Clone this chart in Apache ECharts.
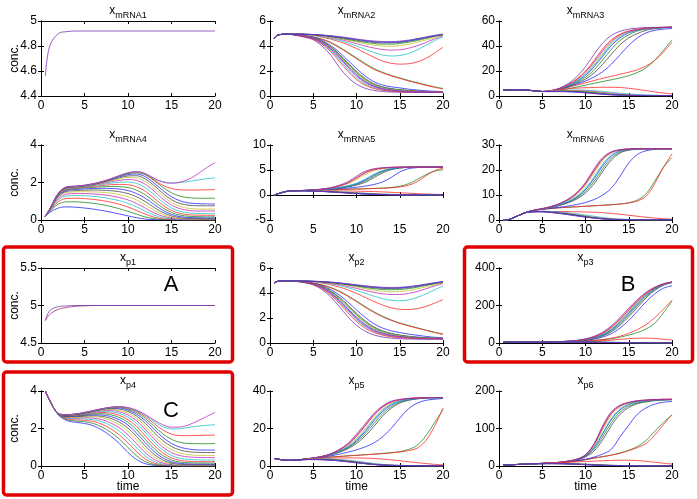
<!DOCTYPE html>
<html><head><meta charset="utf-8">
<script src="https://cdn.jsdelivr.net/npm/echarts/dist/echarts.min.js"></script>
<style>html,body{margin:0;padding:0;background:#fff}#c{width:697px;height:499px}</style>
</head><body><div id="c"></div>
<script>
// ---------- data ----------
const TIME = [0.5,1,2,3,4,5,6,7,8,9,10,11,12,13,14,15,16,17,18,19,20];
const X_TICKS = [0,5,10,15,20];

const xmRNA1 = [
 [4.56,4.80,4.90,4.915,4.92,4.92,4.92,4.92,4.92,4.92,4.92,4.92,4.92,4.92,4.92,4.92,4.92,4.92,4.92,4.92,4.92]
];
const xp1 = [
 [4.80,4.88,4.95,4.975,4.99,4.995,5,5,5,5,5,5,5,5,5,5,5,5,5,5,5],
 [4.80,4.93,4.985,4.995,5,5,5,5,5,5,5,5,5,5,5,5,5,5,5,5,5]
];
const xmRNA2 = [
 [4.6,4.9,4.95,4.91,4.84,4.72,4.55,4.30,3.92,3.50,3.05,2.60,2.20,1.90,1.65,1.45,1.25,1.07,0.90,0.74,0.60],
 [4.6,4.9,4.95,4.91,4.83,4.70,4.52,4.26,3.87,3.44,2.98,2.53,2.14,1.85,1.61,1.41,1.21,1.03,0.86,0.70,0.56],
 [4.6,4.9,4.95,4.90,4.82,4.70,4.45,4.05,3.50,2.85,2.20,1.60,1.15,0.88,0.74,0.65,0.55,0.48,0.42,0.38,0.36],
 [4.6,4.9,4.95,4.89,4.80,4.66,4.38,3.95,3.35,2.65,1.98,1.40,0.98,0.74,0.60,0.51,0.45,0.40,0.37,0.35,0.34],
 [4.6,4.9,4.95,4.89,4.79,4.64,4.35,3.90,3.28,2.56,1.88,1.31,0.91,0.69,0.56,0.48,0.42,0.38,0.36,0.34,0.33],
 [4.6,4.9,4.95,4.89,4.79,4.63,4.32,3.85,3.20,2.47,1.78,1.23,0.85,0.63,0.51,0.44,0.39,0.36,0.34,0.33,0.32],
 [4.6,4.9,4.95,4.88,4.78,4.61,4.29,3.80,3.13,2.38,1.69,1.15,0.80,0.59,0.48,0.41,0.37,0.35,0.33,0.32,0.31],
 [4.6,4.9,4.95,4.88,4.76,4.58,4.20,3.65,2.92,2.14,1.45,0.96,0.67,0.50,0.41,0.36,0.33,0.32,0.31,0.30,0.30],
 [4.6,4.9,4.95,4.88,4.77,4.60,4.26,3.75,3.06,2.30,1.60,1.08,0.75,0.56,0.45,0.39,0.36,0.34,0.32,0.31,0.31],
 [4.6,4.9,4.95,4.87,4.74,4.55,4.14,3.56,2.78,1.98,1.31,0.86,0.60,0.46,0.38,0.34,0.32,0.31,0.30,0.30,0.29],
 [4.6,4.9,4.95,4.85,4.70,4.50,4.00,3.30,2.30,1.50,0.95,0.62,0.45,0.36,0.32,0.30,0.29,0.28,0.28,0.28,0.28],
 [4.6,4.9,4.95,4.95,4.93,4.85,4.70,4.55,4.35,4.10,3.80,3.45,3.10,2.80,2.62,2.55,2.58,2.72,3.00,3.42,3.90],
 [4.6,4.9,4.95,4.95,4.93,4.86,4.76,4.62,4.45,4.24,4.00,3.74,3.48,3.28,3.20,3.24,3.40,3.68,4.05,4.42,4.72],
 [4.6,4.9,4.95,4.95,4.93,4.88,4.80,4.68,4.54,4.37,4.19,4.00,3.84,3.72,3.67,3.70,3.82,4.02,4.28,4.56,4.82],
 [4.6,4.9,4.95,4.95,4.93,4.89,4.82,4.72,4.60,4.46,4.32,4.18,4.07,4.00,3.98,4.03,4.14,4.30,4.48,4.66,4.86],
 [4.6,4.9,4.95,4.95,4.94,4.90,4.84,4.75,4.64,4.52,4.40,4.29,4.20,4.15,4.15,4.20,4.30,4.44,4.60,4.76,4.90],
 [4.6,4.9,4.95,4.95,4.94,4.91,4.86,4.78,4.69,4.58,4.47,4.37,4.29,4.25,4.25,4.29,4.38,4.51,4.66,4.80,4.92],
 [4.6,4.9,4.95,4.95,4.94,4.92,4.87,4.80,4.72,4.62,4.52,4.43,4.35,4.31,4.30,4.34,4.42,4.55,4.69,4.82,4.93],
 [4.6,4.9,4.95,4.95,4.94,4.92,4.88,4.82,4.75,4.66,4.56,4.47,4.40,4.36,4.35,4.39,4.47,4.59,4.72,4.85,4.95]
];
const xp2 = [
 [4.8,4.95,4.97,4.95,4.90,4.80,4.65,4.45,4.15,3.78,3.36,2.92,2.50,2.15,1.85,1.60,1.40,1.22,1.04,0.87,0.72],
 [4.8,4.95,4.97,4.95,4.89,4.79,4.63,4.42,4.11,3.73,3.30,2.86,2.45,2.10,1.81,1.57,1.37,1.19,1.01,0.84,0.69],
 [4.8,4.95,4.97,4.95,4.88,4.77,4.58,4.28,3.85,3.28,2.65,2.05,1.55,1.20,0.98,0.84,0.72,0.62,0.53,0.46,0.42],
 [4.8,4.95,4.97,4.95,4.88,4.75,4.53,4.18,3.68,3.05,2.38,1.77,1.30,0.98,0.78,0.64,0.55,0.48,0.43,0.40,0.38],
 [4.8,4.95,4.97,4.94,4.87,4.74,4.50,4.13,3.60,2.95,2.27,1.67,1.21,0.91,0.72,0.59,0.51,0.45,0.41,0.38,0.36],
 [4.8,4.95,4.97,4.94,4.87,4.73,4.48,4.08,3.52,2.85,2.16,1.57,1.13,0.85,0.67,0.55,0.48,0.43,0.39,0.37,0.35],
 [4.8,4.95,4.97,4.94,4.86,4.72,4.45,4.03,3.44,2.75,2.05,1.47,1.06,0.79,0.62,0.52,0.45,0.41,0.38,0.36,0.34],
 [4.8,4.95,4.97,4.94,4.85,4.70,4.40,3.94,3.30,2.57,1.86,1.31,0.93,0.69,0.55,0.46,0.41,0.37,0.35,0.34,0.33],
 [4.8,4.95,4.97,4.94,4.86,4.71,4.42,3.98,3.37,2.66,1.95,1.38,0.99,0.74,0.58,0.49,0.43,0.39,0.36,0.35,0.34],
 [4.8,4.95,4.97,4.93,4.84,4.68,4.36,3.87,3.18,2.42,1.72,1.19,0.85,0.63,0.50,0.43,0.38,0.35,0.34,0.33,0.32],
 [4.8,4.95,4.97,4.93,4.83,4.65,4.28,3.70,2.92,2.10,1.42,0.94,0.65,0.48,0.39,0.34,0.32,0.31,0.30,0.30,0.30],
 [4.8,4.95,4.97,4.96,4.95,4.90,4.80,4.66,4.48,4.25,3.97,3.65,3.33,3.04,2.82,2.70,2.68,2.75,2.92,3.18,3.48],
 [4.8,4.95,4.97,4.96,4.95,4.91,4.84,4.74,4.60,4.42,4.21,3.98,3.75,3.55,3.42,3.38,3.45,3.65,3.92,4.25,4.56],
 [4.8,4.95,4.97,4.96,4.95,4.92,4.86,4.78,4.67,4.53,4.37,4.21,4.05,3.94,3.88,3.88,3.96,4.12,4.33,4.55,4.76],
 [4.8,4.95,4.97,4.96,4.95,4.92,4.88,4.81,4.72,4.61,4.48,4.35,4.23,4.15,4.10,4.12,4.20,4.33,4.48,4.64,4.80],
 [4.8,4.95,4.97,4.96,4.95,4.93,4.89,4.83,4.75,4.66,4.55,4.44,4.35,4.28,4.26,4.28,4.35,4.46,4.60,4.73,4.85],
 [4.8,4.95,4.97,4.96,4.95,4.93,4.90,4.85,4.78,4.69,4.60,4.50,4.42,4.37,4.35,4.37,4.43,4.53,4.65,4.77,4.88],
 [4.8,4.95,4.97,4.96,4.95,4.94,4.91,4.86,4.80,4.72,4.63,4.54,4.47,4.42,4.40,4.42,4.48,4.57,4.68,4.80,4.90],
 [4.8,4.95,4.97,4.96,4.95,4.94,4.91,4.87,4.81,4.74,4.66,4.58,4.51,4.46,4.44,4.46,4.51,4.60,4.71,4.82,4.92]
];
const xmRNA3 = [
 [4.9,4.9,4.9,4.8,4.2,3.6,3.7,4.5,5.8,7.2,8.7,10.2,11.6,13.0,14.5,16.3,18.8,22.5,28.5,36.5,45],
 [4.9,4.9,4.9,4.8,4.2,3.6,3.9,5.0,6.8,8.7,10.6,12.4,14.2,15.8,17.4,19.0,21.0,24.0,28.5,35.0,43],
 [4.9,4.9,4.9,4.8,4.2,3.6,4.0,5.3,7.3,9.5,12.0,15.2,19.5,25.5,33.0,40.5,46.5,50.5,52.5,53.5,54.0],
 [4.9,4.9,4.9,4.8,4.2,3.6,4.0,5.4,7.6,10.2,13.5,18.5,25.5,33.5,41.0,46.5,50.0,52.5,53.8,54.5,55.0],
 [4.9,4.9,4.9,4.8,4.2,3.6,4.1,5.6,8.0,11.0,15.0,21.0,29.0,37.5,44.5,49.0,52.0,53.5,54.3,54.8,55.0],
 [4.9,4.9,4.9,4.8,4.2,3.6,4.2,5.9,8.8,12.7,18.3,26.0,35.0,43.0,48.5,51.5,53.2,54.2,54.6,54.9,55.0],
 [4.9,4.9,4.9,4.8,4.2,3.6,4.1,5.7,8.3,11.7,16.5,23.5,32.0,40.5,46.5,50.5,52.7,53.9,54.5,54.8,55.0],
 [4.9,4.9,4.9,4.8,4.2,3.6,4.2,5.8,8.5,12.2,17.4,24.8,33.5,41.8,47.5,51.0,53.0,54.0,54.5,54.8,55.0],
 [4.9,4.9,4.9,4.8,4.2,3.6,4.2,6.0,9.0,13.2,19.2,27.3,36.5,44.0,49.0,51.8,53.3,54.2,54.6,54.9,55.0],
 [4.9,4.9,4.9,4.8,4.2,3.6,4.2,6.0,9.2,13.7,20.0,28.5,37.8,45.0,49.5,52.0,53.4,54.3,54.7,54.9,55.0],
 [4.9,4.9,4.9,4.8,4.2,3.6,4.3,6.3,10.0,15.5,23.5,33.5,42.5,48.5,51.8,53.4,54.3,54.7,54.9,55.0,55.0],
 [4.9,4.9,4.9,4.8,4.2,3.6,4.0,4.9,5.8,6.3,6.6,6.8,7.0,7.0,6.8,6.2,5.3,4.3,3.3,2.4,1.7],
 [4.9,4.9,4.9,4.8,4.2,3.6,3.8,4.3,4.7,4.8,4.6,4.2,3.6,3.0,2.3,1.7,1.2,0.9,0.7,0.5,0.4],
 [4.9,4.9,4.9,4.8,4.2,3.6,3.7,4.1,4.4,4.4,4.1,3.6,2.9,2.2,1.5,1.0,0.7,0.5,0.4,0.3,0.3],
 [4.9,4.9,4.9,4.8,4.2,3.6,3.7,4.0,4.2,4.1,3.7,3.1,2.4,1.7,1.1,0.7,0.5,0.4,0.3,0.3,0.3],
 [4.9,4.9,4.9,4.8,4.2,3.6,3.6,3.8,3.9,3.7,3.3,2.7,2.0,1.4,0.9,0.6,0.4,0.3,0.3,0.3,0.3],
 [4.9,4.9,4.9,4.8,4.2,3.6,3.6,3.7,3.7,3.5,3.0,2.4,1.7,1.2,0.8,0.5,0.4,0.3,0.3,0.3,0.3],
 [4.9,4.9,4.9,4.8,4.2,3.6,3.5,3.6,3.5,3.2,2.7,2.1,1.5,1.0,0.7,0.5,0.4,0.3,0.3,0.3,0.3],
 [4.9,4.9,4.9,4.8,4.2,3.6,3.5,3.5,3.3,3.0,2.5,1.9,1.3,0.9,0.6,0.4,0.3,0.3,0.3,0.3,0.3]
];
const xp3 = [
 [5,5,5,5,5,5,5.5,6,7,8,10,13,17,23,31,42,56,75,105,160,225],
 [5,5,5,5,5,5,5.5,6,7,8.5,11,14.5,19,26,36,52,72,98,135,180,228],
 [5,5,5,5,5,5,5.5,6.5,8,10,14,21,32,50,80,120,170,220,262,292,305],
 [5,5,5,5,5,5,5.5,6.5,8.5,11,16,24,38,60,95,140,190,240,280,308,322],
 [5,5,5,5,5,5,5.5,6.5,8.5,11.5,17,26,41,66,103,150,200,248,285,310,323],
 [5,5,5,5,5,5,5.5,7,9,12.5,19,30,48,77,118,167,216,260,292,313,325],
 [5,5,5,5,5,5,5.5,6.5,8.5,12,18,28,44,71,110,158,208,254,289,311,324],
 [5,5,5,5,5,5,5.5,7,9,12.5,19,29,46,74,114,163,212,257,290,312,324],
 [5,5,5,5,5,5,5.5,7,9.5,13,20,32,52,83,125,174,222,264,294,314,325],
 [5,5,5,5,5,5,5.5,7,9.5,13.5,21,33,54,86,129,178,225,266,295,315,325],
 [5,5,5,5,5,5,6,7.5,10,14,22,36,58,92,136,186,232,271,298,316,326],
 [5,5,5,5,5,5,5.5,6,7,8,9.5,11,13,15.5,19,23,25.5,26,24,20,16],
 [5,5,5,5,5,5,5.5,6,6.5,7,7,6.5,5.5,4.5,3.5,2.5,2,1.5,1,1,1],
 [5,5,5,5,5,5,5.5,6,6.5,6.5,6,5.5,4.5,3.5,2.5,1.8,1.3,1,0.8,0.7,0.6],
 [5,5,5,5,5,5,5.5,6,6,6,5.5,5,4,3,2.2,1.5,1.1,0.8,0.6,0.5,0.5],
 [5,5,5,5,5,5,5.5,5.5,6,5.5,5,4.5,3.5,2.6,1.9,1.3,0.9,0.7,0.5,0.5,0.4],
 [5,5,5,5,5,5,5.5,5.5,5.5,5.5,5,4.2,3.3,2.4,1.7,1.2,0.8,0.6,0.5,0.4,0.4],
 [5,5,5,5,5,5,5,5.5,5.5,5,4.5,4,3,2.2,1.5,1,0.7,0.5,0.4,0.4,0.4],
 [5,5,5,5,5,5,5,5.5,5.5,5,4.5,3.8,2.8,2,1.4,0.9,0.6,0.5,0.4,0.4,0.4]
];
const xmRNA4 = [
 [0.20,0.40,0.64,0.70,0.68,0.64,0.58,0.51,0.42,0.32,0.22,0.12,0.05,0.02,0.01,0,0,0,0,0,0],
 [0.20,0.45,0.85,0.97,0.97,0.94,0.89,0.82,0.72,0.60,0.46,0.31,0.16,0.07,0.03,0.01,0,0,0,0,0],
 [0.20,0.48,0.98,1.15,1.16,1.14,1.10,1.04,0.95,0.84,0.69,0.51,0.31,0.15,0.06,0.03,0.02,0.01,0.01,0.01,0.01],
 [0.20,0.50,1.08,1.28,1.30,1.29,1.26,1.21,1.13,1.03,0.89,0.70,0.47,0.26,0.12,0.06,0.03,0.02,0.02,0.02,0.02],
 [0.20,0.52,1.16,1.38,1.41,1.41,1.39,1.35,1.29,1.20,1.07,0.88,0.63,0.38,0.20,0.10,0.05,0.04,0.03,0.03,0.03],
 [0.20,0.53,1.22,1.47,1.50,1.51,1.50,1.48,1.43,1.36,1.24,1.06,0.80,0.52,0.29,0.15,0.08,0.06,0.05,0.05,0.05],
 [0.20,0.54,1.27,1.53,1.57,1.59,1.60,1.59,1.56,1.51,1.41,1.24,0.98,0.67,0.40,0.22,0.12,0.09,0.08,0.07,0.07],
 [0.20,0.55,1.31,1.58,1.63,1.66,1.68,1.69,1.68,1.65,1.57,1.41,1.16,0.83,0.52,0.30,0.18,0.13,0.12,0.11,0.11],
 [0.20,0.56,1.34,1.62,1.67,1.71,1.74,1.77,1.79,1.78,1.73,1.59,1.34,0.99,0.65,0.40,0.26,0.20,0.18,0.17,0.17],
 [0.20,0.56,1.36,1.65,1.70,1.74,1.79,1.84,1.88,1.90,1.88,1.77,1.53,1.16,0.79,0.51,0.35,0.28,0.26,0.25,0.25],
 [0.20,0.57,1.38,1.68,1.73,1.77,1.83,1.89,1.96,2.01,2.03,1.95,1.72,1.35,0.95,0.64,0.46,0.38,0.35,0.34,0.34],
 [0.20,0.57,1.39,1.70,1.75,1.79,1.86,1.94,2.03,2.11,2.16,2.11,1.90,1.54,1.12,0.79,0.60,0.51,0.48,0.48,0.48],
 [0.20,0.57,1.40,1.72,1.76,1.81,1.88,1.97,2.08,2.19,2.27,2.25,2.05,1.70,1.28,0.93,0.72,0.62,0.59,0.58,0.58],
 [0.20,0.58,1.41,1.73,1.77,1.82,1.90,2.00,2.12,2.25,2.35,2.36,2.18,1.84,1.43,1.08,0.88,0.79,0.76,0.76,0.76],
 [0.20,0.58,1.42,1.74,1.78,1.83,1.91,2.02,2.15,2.30,2.42,2.45,2.30,1.97,1.58,1.24,1.02,0.91,0.87,0.86,0.85],
 [0.20,0.58,1.42,1.75,1.79,1.84,1.92,2.03,2.17,2.33,2.47,2.52,2.40,2.10,1.75,1.45,1.27,1.19,1.16,1.16,1.16],
 [0.20,0.58,1.43,1.76,1.80,1.85,1.93,2.04,2.18,2.35,2.50,2.56,2.45,2.15,1.85,1.68,1.61,1.60,1.60,1.61,1.62],
 [0.20,0.58,1.43,1.77,1.80,1.85,1.93,2.05,2.19,2.36,2.51,2.57,2.47,2.22,2.05,1.98,2.00,2.06,2.13,2.20,2.25],
 [0.20,0.58,1.43,1.78,1.81,1.86,1.94,2.05,2.20,2.37,2.52,2.58,2.47,2.22,2.02,1.96,2.02,2.18,2.45,2.78,3.06]
];
const xp4 = [
 [4.00,3.50,2.72,2.42,2.33,2.27,2.15,1.92,1.60,1.20,0.72,0.34,0.12,0.04,0.01,0,0,0,0,0,0],
 [4.00,3.50,2.73,2.47,2.40,2.36,2.27,2.08,1.80,1.44,0.98,0.54,0.23,0.08,0.03,0.01,0,0,0,0,0],
 [4.00,3.50,2.74,2.51,2.46,2.44,2.38,2.23,1.99,1.66,1.23,0.76,0.37,0.15,0.06,0.02,0.01,0.01,0.01,0.01,0.01],
 [4.00,3.50,2.75,2.55,2.52,2.51,2.47,2.36,2.16,1.86,1.45,0.97,0.53,0.24,0.10,0.04,0.02,0.02,0.02,0.02,0.02],
 [4.00,3.50,2.76,2.58,2.56,2.57,2.55,2.47,2.30,2.04,1.66,1.18,0.71,0.35,0.16,0.07,0.04,0.03,0.03,0.03,0.03],
 [4.00,3.50,2.76,2.61,2.60,2.62,2.62,2.57,2.43,2.20,1.85,1.38,0.88,0.48,0.23,0.11,0.06,0.05,0.05,0.05,0.05],
 [4.00,3.50,2.77,2.63,2.63,2.66,2.68,2.65,2.54,2.34,2.02,1.57,1.06,0.62,0.32,0.16,0.09,0.07,0.07,0.07,0.07],
 [4.00,3.50,2.77,2.65,2.66,2.70,2.73,2.72,2.64,2.47,2.18,1.75,1.24,0.77,0.43,0.23,0.14,0.11,0.10,0.10,0.10],
 [4.00,3.50,2.78,2.67,2.68,2.73,2.78,2.79,2.73,2.59,2.33,1.93,1.42,0.93,0.56,0.32,0.21,0.17,0.16,0.16,0.16],
 [4.00,3.50,2.78,2.68,2.70,2.76,2.82,2.85,2.82,2.70,2.47,2.10,1.60,1.10,0.70,0.43,0.30,0.25,0.23,0.23,0.23],
 [4.00,3.50,2.78,2.69,2.72,2.78,2.85,2.90,2.89,2.80,2.60,2.26,1.78,1.27,0.85,0.56,0.41,0.35,0.33,0.32,0.32],
 [4.00,3.50,2.79,2.70,2.73,2.80,2.88,2.94,2.96,2.89,2.72,2.41,1.95,1.44,1.01,0.71,0.55,0.48,0.46,0.45,0.45],
 [4.00,3.50,2.79,2.71,2.74,2.81,2.90,2.98,3.01,2.97,2.82,2.54,2.11,1.61,1.18,0.87,0.69,0.60,0.57,0.56,0.55],
 [4.00,3.50,2.79,2.72,2.75,2.82,2.92,3.01,3.06,3.04,2.91,2.66,2.27,1.79,1.36,1.04,0.85,0.76,0.73,0.72,0.72],
 [4.00,3.50,2.79,2.72,2.76,2.83,2.93,3.03,3.09,3.09,2.98,2.76,2.41,1.96,1.53,1.20,1.00,0.90,0.86,0.85,0.85],
 [4.00,3.50,2.80,2.73,2.77,2.84,2.94,3.04,3.11,3.13,3.04,2.85,2.53,2.12,1.72,1.42,1.26,1.20,1.19,1.19,1.20],
 [4.00,3.50,2.80,2.73,2.77,2.85,2.95,3.05,3.12,3.15,3.08,2.91,2.63,2.26,1.92,1.70,1.62,1.62,1.63,1.64,1.65],
 [4.00,3.50,2.80,2.74,2.78,2.85,2.95,3.05,3.13,3.16,3.10,2.95,2.70,2.37,2.10,1.98,1.99,2.06,2.12,2.17,2.20],
 [4.00,3.50,2.80,2.74,2.78,2.86,2.96,3.06,3.14,3.17,3.12,2.98,2.74,2.45,2.20,2.07,2.08,2.20,2.40,2.63,2.86]
];
const xmRNA5 = [
 [0.00,0.30,0.75,0.85,0.90,0.95,1.00,1.05,1.10,1.15,1.20,1.25,1.30,1.38,1.50,1.75,2.25,3.10,4.05,4.75,5.05],
 [0.00,0.30,0.75,0.85,0.90,0.95,1.00,1.05,1.10,1.15,1.20,1.25,1.30,1.35,1.45,1.62,1.95,2.65,3.80,4.85,5.35],
 [0.00,0.30,0.75,0.85,0.90,0.97,1.05,1.15,1.27,1.40,1.55,1.78,2.10,2.60,3.50,4.60,5.25,5.48,5.56,5.59,5.60],
 [0.00,0.30,0.75,0.85,0.91,0.99,1.08,1.20,1.38,1.62,1.98,2.55,3.45,4.40,5.05,5.38,5.52,5.57,5.59,5.60,5.60],
 [0.00,0.30,0.75,0.85,0.91,0.99,1.09,1.22,1.42,1.70,2.12,2.80,3.75,4.65,5.18,5.43,5.54,5.58,5.59,5.60,5.60],
 [0.00,0.30,0.75,0.85,0.92,1.01,1.14,1.35,1.70,2.25,3.10,4.10,4.85,5.25,5.45,5.54,5.58,5.60,5.60,5.60,5.60],
 [0.00,0.30,0.75,0.85,0.91,1.00,1.10,1.25,1.46,1.78,2.25,3.00,3.98,4.80,5.25,5.46,5.55,5.58,5.59,5.60,5.60],
 [0.00,0.30,0.75,0.85,0.92,1.00,1.11,1.27,1.50,1.85,2.38,3.18,4.15,4.90,5.30,5.48,5.55,5.59,5.60,5.60,5.60],
 [0.00,0.30,0.75,0.85,0.92,1.01,1.15,1.38,1.78,2.40,3.35,4.40,5.05,5.35,5.50,5.56,5.59,5.60,5.60,5.60,5.60],
 [0.00,0.30,0.75,0.85,0.92,1.02,1.16,1.40,1.82,2.46,3.45,4.50,5.10,5.38,5.51,5.57,5.59,5.60,5.60,5.60,5.60],
 [0.00,0.30,0.75,0.85,0.93,1.03,1.20,1.48,1.95,2.65,3.75,4.75,5.25,5.45,5.55,5.58,5.60,5.60,5.60,5.60,5.60],
 [0.00,0.30,0.75,0.85,0.88,0.88,0.87,0.85,0.83,0.80,0.77,0.73,0.68,0.62,0.54,0.45,0.36,0.27,0.19,0.13,0.09],
 [0.00,0.30,0.75,0.85,0.86,0.84,0.80,0.74,0.66,0.57,0.47,0.37,0.28,0.20,0.14,0.10,0.07,0.05,0.04,0.03,0.03],
 [0.00,0.30,0.75,0.85,0.85,0.82,0.77,0.70,0.61,0.51,0.41,0.31,0.22,0.15,0.10,0.07,0.05,0.04,0.03,0.03,0.02],
 [0.00,0.30,0.75,0.85,0.85,0.81,0.75,0.67,0.58,0.47,0.37,0.27,0.19,0.12,0.08,0.05,0.04,0.03,0.02,0.02,0.02],
 [0.00,0.30,0.75,0.85,0.84,0.80,0.73,0.65,0.55,0.44,0.34,0.24,0.16,0.10,0.06,0.04,0.03,0.02,0.02,0.02,0.02],
 [0.00,0.30,0.75,0.85,0.84,0.79,0.72,0.63,0.53,0.42,0.32,0.22,0.14,0.09,0.05,0.03,0.02,0.02,0.02,0.02,0.02],
 [0.00,0.30,0.75,0.85,0.83,0.78,0.71,0.62,0.51,0.40,0.30,0.20,0.13,0.08,0.05,0.03,0.02,0.02,0.02,0.02,0.02],
 [0.00,0.30,0.75,0.85,0.83,0.78,0.70,0.61,0.50,0.39,0.29,0.19,0.12,0.07,0.04,0.03,0.02,0.02,0.02,0.02,0.02]
];
const xp5 = [
 [4.0,3.6,3.0,3.2,3.6,4.0,4.4,4.8,5.1,5.4,5.7,6.0,6.3,6.7,7.1,7.7,8.8,11.0,16.0,23.0,30.0],
 [4.0,3.6,3.0,3.2,3.6,4.0,4.4,4.8,5.1,5.4,5.7,6.0,6.3,6.6,7.0,7.5,8.2,9.5,13.5,21.0,31.0],
 [4.0,3.6,3.0,3.2,3.6,4.1,4.7,5.4,6.3,7.4,8.6,10.2,12.3,15.5,20.0,25.5,30.5,33.5,35.0,35.6,36.0],
 [4.0,3.6,3.0,3.2,3.6,4.2,4.9,5.9,7.3,9.2,12.0,16.0,21.0,26.5,30.8,33.5,35.0,35.8,36.2,36.4,36.4],
 [4.0,3.6,3.0,3.2,3.6,4.2,5.0,6.0,7.5,9.6,12.8,17.2,22.5,27.8,31.6,34.0,35.3,35.9,36.2,36.4,36.4],
 [4.0,3.6,3.0,3.2,3.7,4.3,5.1,6.3,8.2,10.8,14.8,19.8,25.5,30.3,33.4,35.0,35.8,36.2,36.4,36.5,36.5],
 [4.0,3.6,3.0,3.2,3.6,4.2,5.0,6.1,7.8,10.0,13.5,18.3,24.0,29.0,32.5,34.5,35.5,36.0,36.3,36.4,36.4],
 [4.0,3.6,3.0,3.2,3.6,4.2,5.0,6.2,8.0,10.4,14.1,19.0,24.8,29.7,32.9,34.7,35.6,36.1,36.3,36.4,36.4],
 [4.0,3.6,3.0,3.2,3.7,4.3,5.1,6.4,8.5,11.4,15.8,21.2,27.0,31.3,34.0,35.3,36.0,36.3,36.4,36.5,36.5],
 [4.0,3.6,3.0,3.2,3.7,4.3,5.1,6.4,8.6,11.6,16.2,21.7,27.4,31.6,34.2,35.4,36.0,36.3,36.4,36.5,36.5],
 [4.0,3.6,3.0,3.2,3.7,4.3,5.1,6.5,8.8,12.0,17.0,22.5,28.0,32.0,34.5,35.5,36.0,36.3,36.4,36.5,36.5],
 [4.0,3.6,3.0,3.2,3.6,3.9,4.1,4.2,4.3,4.3,4.3,4.2,4.0,3.7,3.3,2.8,2.3,1.8,1.3,0.9,0.6],
 [4.0,3.6,3.0,3.2,3.5,3.7,3.8,3.7,3.5,3.1,2.6,2.0,1.4,0.9,0.6,0.4,0.25,0.15,0.1,0.08,0.06],
 [4.0,3.6,3.0,3.2,3.5,3.6,3.6,3.5,3.2,2.8,2.3,1.7,1.1,0.7,0.45,0.3,0.2,0.12,0.08,0.06,0.05],
 [4.0,3.6,3.0,3.2,3.4,3.6,3.6,3.4,3.1,2.7,2.1,1.5,1.0,0.6,0.4,0.25,0.15,0.1,0.07,0.05,0.05],
 [4.0,3.6,3.0,3.2,3.4,3.5,3.5,3.3,3.0,2.5,2.0,1.4,0.9,0.55,0.35,0.22,0.14,0.09,0.06,0.05,0.05],
 [4.0,3.6,3.0,3.2,3.4,3.5,3.4,3.2,2.9,2.4,1.9,1.3,0.85,0.5,0.32,0.2,0.13,0.08,0.06,0.05,0.05],
 [4.0,3.6,3.0,3.2,3.4,3.5,3.4,3.2,2.8,2.3,1.8,1.25,0.8,0.48,0.3,0.19,0.12,0.08,0.06,0.05,0.05],
 [4.0,3.6,3.0,3.2,3.4,3.4,3.3,3.1,2.7,2.2,1.7,1.2,0.75,0.45,0.28,0.18,0.11,0.07,0.05,0.05,0.05]
];
const xmRNA6 = [
 [0.0,0.1,1.4,2.9,3.8,4.3,4.6,4.9,5.1,5.3,5.5,5.7,5.9,6.1,6.4,6.9,8.0,10.5,15.5,21.0,25.0],
 [0.0,0.1,1.4,2.9,3.8,4.3,4.6,4.9,5.1,5.3,5.5,5.7,5.9,6.1,6.4,6.8,7.6,9.5,14.5,21.0,26.5],
 [0.0,0.1,1.4,2.9,3.8,4.3,4.7,5.1,5.6,6.2,7.0,8.2,10.0,12.8,17.5,22.8,26.2,27.7,28.2,28.4,28.5],
 [0.0,0.1,1.4,2.9,3.8,4.4,5.0,5.8,6.9,8.4,10.8,14.5,19.5,24.0,26.8,27.9,28.3,28.4,28.5,28.5,28.5],
 [0.0,0.1,1.4,2.9,3.8,4.4,5.0,5.9,7.1,8.8,11.5,15.5,20.6,24.8,27.2,28.1,28.4,28.5,28.5,28.5,28.5],
 [0.0,0.1,1.4,2.9,3.9,4.5,5.3,6.3,7.9,10.2,13.8,18.8,23.8,26.8,28.0,28.4,28.5,28.5,28.5,28.5,28.5],
 [0.0,0.1,1.4,2.9,3.8,4.4,5.1,6.0,7.3,9.2,12.2,16.6,21.8,25.6,27.6,28.2,28.4,28.5,28.5,28.5,28.5],
 [0.0,0.1,1.4,2.9,3.8,4.4,5.1,6.1,7.5,9.5,12.7,17.3,22.4,26.0,27.8,28.3,28.4,28.5,28.5,28.5,28.5],
 [0.0,0.1,1.4,2.9,3.9,4.5,5.3,6.4,8.1,10.6,14.4,19.6,24.4,27.0,28.0,28.4,28.5,28.5,28.5,28.5,28.5],
 [0.0,0.1,1.4,2.9,3.9,4.5,5.3,6.5,8.2,10.8,14.7,19.9,24.6,27.1,28.1,28.4,28.5,28.5,28.5,28.5,28.5],
 [0.0,0.1,1.4,2.9,3.9,4.6,5.4,6.6,8.4,11.0,15.0,20.5,25.0,27.3,28.1,28.4,28.5,28.5,28.5,28.5,28.5],
 [0.0,0.1,1.4,2.9,3.3,3.4,3.4,3.4,3.35,3.3,3.2,3.1,2.9,2.6,2.3,1.9,1.5,1.1,0.8,0.5,0.3],
 [0.0,0.1,1.4,2.9,3.4,3.5,3.4,3.2,2.9,2.5,2.0,1.5,1.0,0.6,0.4,0.25,0.15,0.1,0.08,0.06,0.05],
 [0.0,0.1,1.4,2.9,3.4,3.5,3.3,3.0,2.6,2.1,1.6,1.1,0.7,0.4,0.25,0.15,0.1,0.07,0.05,0.04,0.04],
 [0.0,0.1,1.4,2.9,3.4,3.4,3.2,2.9,2.5,2.0,1.5,1.0,0.6,0.35,0.2,0.12,0.08,0.06,0.05,0.04,0.04],
 [0.0,0.1,1.4,2.9,3.3,3.4,3.2,2.8,2.4,1.9,1.4,0.9,0.55,0.3,0.18,0.1,0.07,0.05,0.04,0.04,0.04],
 [0.0,0.1,1.4,2.9,3.3,3.3,3.1,2.7,2.3,1.8,1.3,0.85,0.5,0.28,0.16,0.1,0.07,0.05,0.04,0.04,0.04],
 [0.0,0.1,1.4,2.9,3.3,3.3,3.0,2.7,2.2,1.7,1.2,0.8,0.45,0.25,0.15,0.09,0.06,0.05,0.04,0.04,0.04],
 [0.0,0.1,1.4,2.9,3.3,3.3,3.0,2.6,2.1,1.6,1.15,0.75,0.42,0.23,0.14,0.08,0.06,0.05,0.04,0.04,0.04]
];
const xp6 = [
 [3,3,4,5,6,7,8,9.5,11,13.5,17,21,25,29,35,42,52,68,92,116,136],
 [3,3,4,5,6,7,8,9.5,11,13.5,17,21,25,29,34,41,49,60,82,110,137],
 [3,3,4,5,6,6.5,7.5,9,11,14,18,24,32,45,78,109,138,155,165,170,172],
 [3,3,4,5,6,7,8,9.5,12,16,24,40,70,108,138,156,166,171,174,176,177],
 [3,3,4,5,6,7,8,9.5,12.5,17,26,45,78,116,144,160,168,172,175,176,177],
 [3,3,4,5,6,7,8,10,13,18,29,55,97,135,157,168,173,175,177,177,178],
 [3,3,4,5,6,7,8,9.5,12.5,17,27,49,86,124,150,164,171,174,176,177,177],
 [3,3,4,5,6,7,8,10,13,17.5,28,51,89,127,152,165,171,174,176,177,177],
 [3,3,4,5,6,7,8,10,13,18,29,57,102,140,160,169,173,175,177,177,178],
 [3,3,4,5,6,7,8,10,13,18,30,58,104,142,161,169,174,176,177,178,178],
 [3,3,4,5,6,7,8,10,13,18,30,60,108,145,162,170,174,176,177,178,178],
 [3,3,4,5,6,7,8,9,10,11,12,13,14,15,15.5,15.5,14.5,12.5,10,7.5,5],
 [3,3,4,5,6,6.5,7,7,6.5,6,5,4,3,2,1.5,1,0.7,0.5,0.4,0.3,0.3],
 [3,3,4,5,6,6.5,6.8,6.8,6.3,5.6,4.6,3.6,2.6,1.8,1.2,0.8,0.5,0.4,0.3,0.3,0.3],
 [3,3,4,5,6,6.4,6.6,6.5,6,5.3,4.3,3.3,2.4,1.6,1.1,0.7,0.5,0.35,0.3,0.25,0.25],
 [3,3,4,5,6,6.3,6.5,6.3,5.8,5,4,3,2.1,1.4,0.9,0.6,0.4,0.3,0.25,0.2,0.2],
 [3,3,4,5,5.9,6.2,6.4,6.2,5.6,4.8,3.8,2.8,2,1.3,0.85,0.55,0.35,0.25,0.2,0.2,0.2],
 [3,3,4,5,5.9,6.2,6.3,6.1,5.5,4.6,3.6,2.6,1.8,1.2,0.8,0.5,0.33,0.23,0.2,0.2,0.2],
 [3,3,4,5,5.9,6.1,6.2,6,5.4,4.5,3.5,2.5,1.7,1.1,0.7,0.45,0.3,0.22,0.2,0.2,0.2]
];

// y axis ranges [min, max, interval]
const Y_mRNA1 = [4.4, 5, 0.2], Y_mRNA2 = [0, 6, 2], Y_mRNA3 = [0, 60, 20];
const Y_mRNA4 = [0, 4, 2], Y_mRNA5 = [-5, 10, 5], Y_mRNA6 = [0, 30, 10];
const Y_p1 = [4.5, 5.5, 0.5], Y_p2 = [0, 6, 2], Y_p3 = [0, 400, 200];
const Y_p4 = [0, 4, 2], Y_p5 = [0, 40, 20], Y_p6 = [0, 200, 100];

// ---------- styles ----------
const C = {b:'#2a2aff', g:'#1f8a1f', r:'#ff2a2a', c:'#22c4c4', m:'#c62ac6', y:'#c4c42a', k:'#4a4a4a', p:'#7a36b0', q:'#a0306a'};
const TOGGLE_COLORS = ['g','r','b','k','g','y','b','c','m','r','p','r','c','m','y','g','k','b','p'];
const CYCLE_COLORS = ['b','g','r','c','m','y','k','b','g','r','c','m','y','k','b','g','r','c','m'];
const FONT = "'Liberation Sans', Arial, sans-serif";

const COL_L = [41, 270, 499], COL_W = [174, 173, 173];
const ROW_T = [21, 145, 268, 391], ROW_H = 75;

const panels = [
  {sub:'mRNA1', data:xmRNA1, y:Y_mRNA1, colors:['p'], r:0, c:0},
  {sub:'mRNA2', data:xmRNA2, y:Y_mRNA2, colors:TOGGLE_COLORS, r:0, c:1},
  {sub:'mRNA3', data:xmRNA3, y:Y_mRNA3, colors:TOGGLE_COLORS, r:0, c:2},
  {sub:'mRNA4', data:xmRNA4, y:Y_mRNA4, colors:CYCLE_COLORS, r:1, c:0},
  {sub:'mRNA5', data:xmRNA5, y:Y_mRNA5, colors:TOGGLE_COLORS, r:1, c:1},
  {sub:'mRNA6', data:xmRNA6, y:Y_mRNA6, colors:TOGGLE_COLORS, r:1, c:2},
  {sub:'p1', data:xp1, y:Y_p1, colors:['q','p'], r:2, c:0},
  {sub:'p2', data:xp2, y:Y_p2, colors:TOGGLE_COLORS, r:2, c:1},
  {sub:'p3', data:xp3, y:Y_p3, colors:TOGGLE_COLORS, r:2, c:2},
  {sub:'p4', data:xp4, y:Y_p4, colors:CYCLE_COLORS, r:3, c:0},
  {sub:'p5', data:xp5, y:Y_p5, colors:TOGGLE_COLORS, r:3, c:1},
  {sub:'p6', data:xp6, y:Y_p6, colors:TOGGLE_COLORS, r:3, c:2}
];

const grid = [], xAxis = [], yAxis = [], series = [];
const lineC = '#000';
const tick = {show:true, inside:true, length:3, lineStyle:{color:lineC, width:1}};
const aline = {show:true, lineStyle:{color:lineC, width:1}};
const lab = {fontSize:12, color:'#000', fontFamily:FONT};

panels.forEach((p, i) => {
  grid.push({left:COL_L[p.c], top:ROW_T[p.r], width:COL_W[p.c], height:ROW_H, containLabel:false, outerBoundsMode:'none'});
  xAxis.push({gridIndex:i, type:'value', position:'bottom', min:X_TICKS[0], max:X_TICKS[X_TICKS.length-1], interval:X_TICKS[1]-X_TICKS[0],
    axisLine:aline, axisTick:tick, splitLine:{show:false}, axisLabel:Object.assign({margin:4}, lab),
    name: p.r === 3 ? 'time' : '', nameLocation:'middle', nameGap:15, nameMoveOverlap:false,
    nameTextStyle:{fontSize:12, color:'#000', fontFamily:FONT}});
  xAxis.push({gridIndex:i, type:'value', position:'top', min:0, max:20, interval:5,
    axisLine:aline, axisTick:tick, splitLine:{show:false}, axisLabel:{show:false},
    name:'{x|x}{s|' + p.sub + '}', nameLocation:'middle', nameGap:1, nameMoveOverlap:false,
    nameTextStyle:{color:'#000', fontFamily:FONT, rich:{
      x:{fontSize:12, color:'#000', fontFamily:FONT, verticalAlign:'top', lineHeight:15},
      s:{fontSize:9, color:'#000', fontFamily:FONT, verticalAlign:'bottom', lineHeight:15}}}});
  yAxis.push({gridIndex:i, type:'value', position:'left', min:p.y[0], max:p.y[1], interval:p.y[2],
    axisLine:aline, axisTick:tick, splitLine:{show:false}, axisLabel:Object.assign({margin:4}, lab),
    name: p.c === 0 ? 'conc.' : '', nameLocation:'middle', nameGap:20, nameRotate:90, nameMoveOverlap:false,
    nameTextStyle:{fontSize:12, color:'#000', fontFamily:FONT}});
  yAxis.push({gridIndex:i, type:'value', position:'right', min:p.y[0], max:p.y[1], interval:p.y[2],
    axisLine:aline, axisTick:tick, splitLine:{show:false}, axisLabel:{show:false}});
  p.data.forEach((curve, j) => {
    series.push({type:'line', xAxisIndex:2*i, yAxisIndex:2*i, showSymbol:false, symbol:'none',
      smooth:0.35, silent:true, animation:false,
      lineStyle:{width:0.8, color:C[p.colors[j % p.colors.length]]},
      data: TIME.map((t, k) => [t, curve[k]])});
  });
});

const redBox = (x, y, w, h) => ({type:'rect', shape:{x, y, width:w, height:h, r:3},
  style:{fill:'none', stroke:'#e00000', lineWidth:3.5}, silent:true});
const bigLetter = (t, x, y) => ({type:'text', x, y, style:{text:t, fill:'#000',
  font:'22px ' + FONT, textAlign:'center', textVerticalAlign:'middle'}, silent:true});

const chart = echarts.init(document.getElementById('c'), null, {renderer:'canvas'});
chart.setOption({
  animation:false, backgroundColor:'#fff',
  grid, xAxis, yAxis, series,
  graphic:[
    redBox(3.5, 247, 229, 115), redBox(464.5, 247, 228, 115), redBox(3.5, 372, 229, 123),
    bigLetter('A', 171, 285), bigLetter('B', 628, 285), bigLetter('C', 171, 411)
  ]
});
</script></body></html>
